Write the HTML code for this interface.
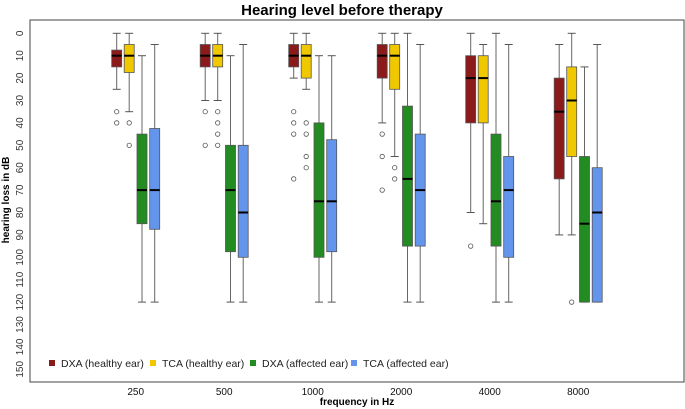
<!DOCTYPE html>
<html><head><meta charset="utf-8"><style>
body{margin:0;background:#fff;}
svg{display:block;font-family:"Liberation Sans",Arial,sans-serif;}
</style></head><body>
<svg id="chart" width="685" height="409">
<text x="342" y="15" text-anchor="middle" font-size="15" font-weight="bold">Hearing level before therapy</text>
<rect x="30" y="20" width="654" height="362" fill="none" stroke="#444" stroke-width="1"/>
<text transform="translate(9,200) rotate(-90)" text-anchor="middle" font-size="10" font-weight="bold">hearing loss in dB</text>
<text x="357" y="405" text-anchor="middle" font-size="10" font-weight="bold">frequency in Hz</text>
<g id="yticks"></g><g id="xticks"></g><g id="boxes"></g><g id="legend"></g>
</svg>
<script>
const categories = ["250","500","1000","2000","4000","8000"];
const seriesNames = ["DXA (healthy ear)","TCA (healthy ear)","DXA (affected ear)","TCA (affected ear)"];
const seriesColors = ["#8b1a1a","#f0c800","#228b22","#6495ed"];
const yTicks = [0,10,20,30,40,50,60,70,80,90,100,110,120,130,140,150];
// each entry: [whiskerLow, q1, median, q3, whiskerHigh]
const dxaHealthy = [[0,7.5,10,15,25],[0,5,10,15,30],[0,5,10,15,20],[0,5,10,20,40],[0,10,20,40,80],[5,20,35,65,90]];
const tcaHealthy = [[0,5,10,17.5,35],[0,5,10,15,30],[0,5,10,20,25],[0,5,10,25,55],[5,10,20,40,85],[0,15,30,55,90]];
const dxaAffected = [[10,45,70,85,120],[10,50,70,97.5,120],[10,40,75,100,120],[0,32.5,65,95,120],[0,45,75,95,120],[15,55,85,120,120]];
const tcaAffected = [[5,42.5,70,87.5,120],[5,50,80,100,120],[10,47.5,75,97.5,120],[5,45,70,95,120],[5,55,70,100,120],[5,60,80,120,120]];
const dxaHealthyOut = [[35,40],[35,50],[35,40,45,65],[45,55,70],[95],[]];
const tcaHealthyOut = [[40,50],[35,40,45,50],[40,45,55,60],[60,65],[],[120]];
const dxaAffectedOut = [[],[],[],[],[],[]];
const tcaAffectedOut = [[],[],[],[],[],[]];
const series = [dxaHealthy,tcaHealthy,dxaAffected,tcaAffected];
const outliers = [dxaHealthyOut,tcaHealthyOut,dxaAffectedOut,tcaAffectedOut];

const NS="http://www.w3.org/2000/svg";
function y(v){return 33.3+v*2.24;}
function groupX(i){return 116.7+88.5*i;}
const offs=[0,12.5,25.3,38];
function xs(i,s){return groupX(i)+offs[s];}
function mk(tag,attrs,parent){const e=document.createElementNS(NS,tag);for(const k in attrs)e.setAttribute(k,attrs[k]);parent.appendChild(e);return e;}

const yg=document.getElementById('yticks');
yTicks.forEach(v=>{
  const t=mk('text',{transform:`translate(23,${y(v)}) rotate(-90)`,'text-anchor':'middle','font-size':'10',fill:'#333'},yg);
  t.textContent=v;
  
  
});
const xg=document.getElementById('xticks');
categories.forEach((c,i)=>{
  const t=mk('text',{x:groupX(i)+19,y:395,'text-anchor':'middle','font-size':'10',fill:'#111'},xg);
  t.textContent=c;
  
  
});
const bg=document.getElementById('boxes');
series.forEach((ser,s)=>{
  ser.forEach((d,i)=>{
    const cx=xs(i,s);
    const g=mk('g',{},bg);
    
    
    mk('line',{x1:cx,x2:cx,y1:y(d[0]),y2:y(d[4]),stroke:'#666','stroke-width':1},g);
    mk('line',{x1:cx-4,x2:cx+4,y1:y(d[0]),y2:y(d[0]),stroke:'#555','stroke-width':1},g);
    mk('line',{x1:cx-4,x2:cx+4,y1:y(d[4]),y2:y(d[4]),stroke:'#555','stroke-width':1},g);
    mk('rect',{x:cx-5,y:y(d[1]),width:10,height:Math.max(y(d[3])-y(d[1]),0.5),fill:seriesColors[s],stroke:'#555','stroke-width':0.8},g);
    mk('line',{x1:cx-5,x2:cx+5,y1:y(d[2]),y2:y(d[2]),stroke:'#000','stroke-width':2},g);
    outliers[s][i].forEach(o=>{
      const c=mk('circle',{cx:cx,cy:y(o),r:2.2,fill:'none',stroke:'#555','stroke-width':0.8},g);
      
      
    });
  });
});
const lg=document.getElementById('legend');
const lx=[52,153,253,354];
seriesNames.forEach((n,s)=>{
  const g=mk('g',{},lg);
  
  
  mk('rect',{x:lx[s]-3,y:360,width:6,height:6,fill:seriesColors[s]},g);
  const t=mk('text',{x:lx[s]+9,y:367,'font-size':'10.5',fill:'#222'},g);
  t.textContent=n;
});
</script>
</body></html>
